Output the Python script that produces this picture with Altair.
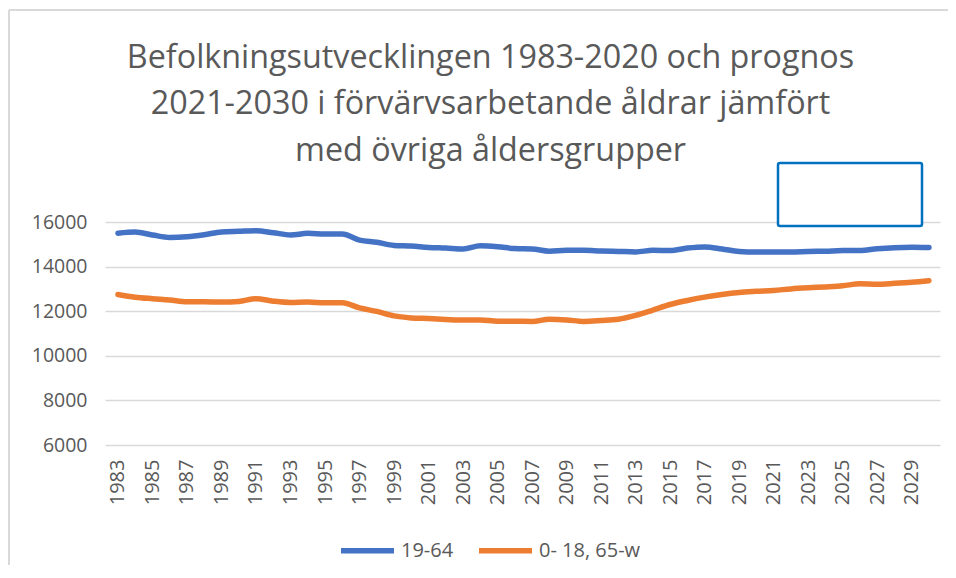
import altair as alt
import pandas as pd

years = list(range(1983, 2031))
working_age = [15500, 15550, 15420, 15310, 15340, 15430, 15550, 15580, 15610, 15520,
               15420, 15490, 15460, 15460, 15190, 15090, 14950, 14920, 14860, 14830,
               14790, 14930, 14890, 14810, 14790, 14690, 14730, 14730, 14700, 14680,
               14660, 14730, 14720, 14830, 14880, 14790, 14680, 14650, 14660, 14650,
               14680, 14690, 14720, 14720, 14800, 14850, 14870, 14860]
other_ages = [12750, 12630, 12560, 12500, 12420, 12420, 12410, 12440, 12560, 12450,
              12390, 12410, 12380, 12380, 12150, 11990, 11790, 11700, 11670, 11630,
              11600, 11610, 11550, 11550, 11540, 11640, 11610, 11540, 11580, 11640,
              11810, 12050, 12300, 12480, 12630, 12750, 12840, 12890, 12930, 13000,
              13050, 13090, 13140, 13230, 13210, 13250, 13300, 13370]
series_names = ["19-64", "0- 18, 65-w"]
series_colors = ["#4472C4", "#ED7D31"]
title_lines = ["Befolkningsutvecklingen 1983-2020 och prognos",
               "2021-2030 i förvärvsarbetande åldrar jämfört",
               "med övriga åldersgrupper"]
x_ticks = list(range(1983, 2030, 2))
y_ticks = [6000, 8000, 10000, 12000, 14000, 16000]

rows = []
for name, vals in zip(series_names, [working_age, other_ages]):
    for y, v in zip(years, vals):
        rows.append({"year": y, "value": v, "series": name})
df = pd.DataFrame(rows)

FONT = "Open Sans"
GREY = "#595959"
one = pd.DataFrame({"a": [0]})

top_edge = alt.Chart(one).mark_rule(stroke="#d9d9d9", strokeWidth=2).encode(
    x=alt.value(-96), x2=alt.value(843), y=alt.value(-212))
left_edge = alt.Chart(one).mark_rule(stroke="#d9d9d9", strokeWidth=2).encode(
    x=alt.value(-96), y=alt.value(-212), y2=alt.value(343))

lines = alt.Chart(df).mark_line(strokeWidth=5.5, interpolate="monotone", strokeCap="round").encode(
    x=alt.X("year:Q", scale=alt.Scale(domain=[1982.25, 2030.64], nice=False, zero=False),
            axis=alt.Axis(values=x_ticks, format="d", labelAngle=270, labelAlign="right",
                          labelBaseline="middle", labelPadding=14, grid=False, ticks=False,
                          domain=False, labelFontSize=20, labelColor=GREY, labelFont=FONT,
                          title=None, labelOverlap=False)),
    y=alt.Y("value:Q", scale=alt.Scale(domain=[6000, 16000], nice=False, zero=False),
            axis=alt.Axis(values=y_ticks, format="d", grid=True, gridColor="#d9d9d9",
                          gridWidth=1.5, ticks=False, domain=False, labelFontSize=19.5,
                          labelColor=GREY, labelFont=FONT, labelPadding=18, title=None)),
    color=alt.Color("series:N", sort=series_names,
                    scale=alt.Scale(domain=series_names, range=series_colors),
                    legend=alt.Legend(orient="none", legendX=233, legendY=299,
                                      direction="horizontal", title=None,
                                      symbolType="stroke", symbolSize=2809,
                                      symbolStrokeWidth=5.5, labelFontSize=20,
                                      labelColor=GREY, labelFont=FONT, columnPadding=14,
                                      labelOffset=4)),
)

box = alt.Chart(one).mark_rect(
    fill="white", stroke="#0070C0", strokeWidth=2.5, cornerRadius=2
).encode(x=alt.value(673), x2=alt.value(817), y=alt.value(-59), y2=alt.value(4))

chart = alt.layer(top_edge, left_edge, lines, box).properties(
    width=835, height=223,
    padding={"left": 97, "top": 214, "right": 8, "bottom": 120},
    autosize=alt.AutoSizeParams(type="none"),
    title=alt.TitleParams(text=title_lines, fontSize=32.3, font=FONT, color=GREY,
                          fontWeight="normal", lineHeight=46.5, anchor="middle",
                          offset=-158, dx=-32),
).configure_view(strokeWidth=0, strokeOpacity=0)

chart.save("out.html", embed_options={"renderer": "svg", "actions": False})
